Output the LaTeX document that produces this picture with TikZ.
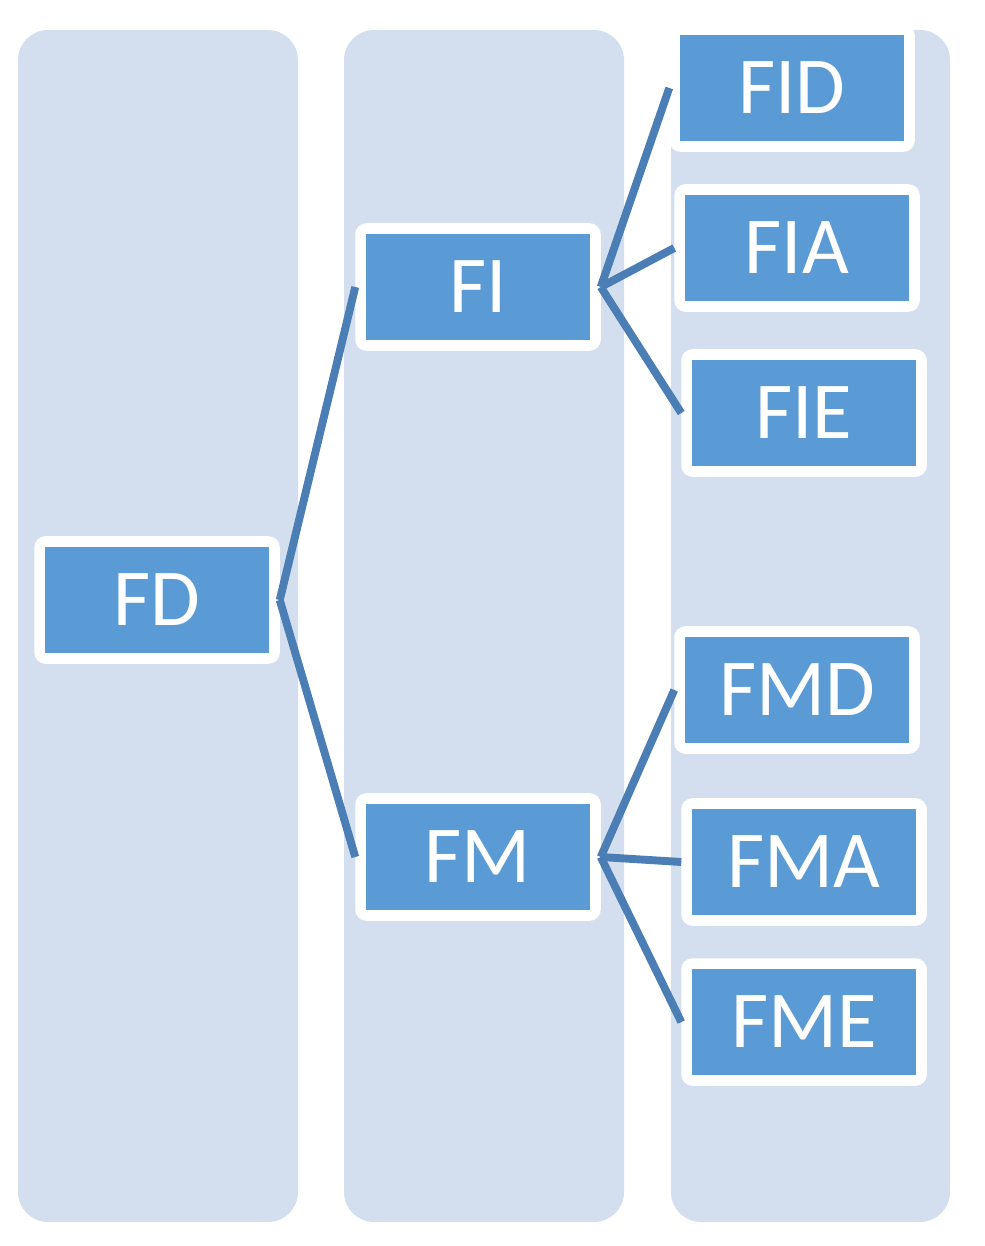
\documentclass[tikz,border=0pt]{standalone}
\usepackage{fontspec}
\setmainfont{Carlito}
\begin{document}
\begin{tikzpicture}[x=0.02cm,y=-0.02cm,
 col/.style={fill=colbg,rounded corners=0.6cm},
 box/.style={fill=boxfill,draw=white,line width=6pt,rounded corners=0.12cm,minimum width=4.7cm,minimum height=2.34cm,inner sep=0pt,text=white,font=\fontsize{46}{50}\selectfont},
 link/.style={draw=linkc,line width=4.5pt}]
\definecolor{colbg}{HTML}{D3DEEF}
\definecolor{boxfill}{HTML}{5B9BD5}
\definecolor{linkc}{HTML}{4A7EB5}
\useasboundingbox (0,0) rectangle (984,1246);
\fill[col] (18,30) rectangle (298,1222);
\fill[col] (344,30) rectangle (624,1222);
\fill[col] (671,30) rectangle (950,1222);
\node[box] (FD) at (157,600) {FD};
\node[box] (FI) at (478,287) {FI};
\node[box] (FM) at (478,857) {FM};
\node[box] (FID) at (792,88) {FID};
\node[box] (FIA) at (797,248) {FIA};
\node[box] (FIE) at (804,413) {FIE};
\node[box] (FMD) at (797,690) {FMD};
\node[box] (FMA) at (804,862) {FMA};
\node[box] (FME) at (804,1022) {FME};
\begin{scope}[on background layer/.style={}]
\end{scope}
\draw[link] (FD.east) -- (FI.west);
\draw[link] (FD.east) -- (FM.west);
\foreach \c in {FID,FIA,FIE} \draw[link] (FI.east) -- (\c.west);
\foreach \c in {FMD,FMA,FME} \draw[link] (FM.east) -- (\c.west);
\end{tikzpicture}
\end{document}
